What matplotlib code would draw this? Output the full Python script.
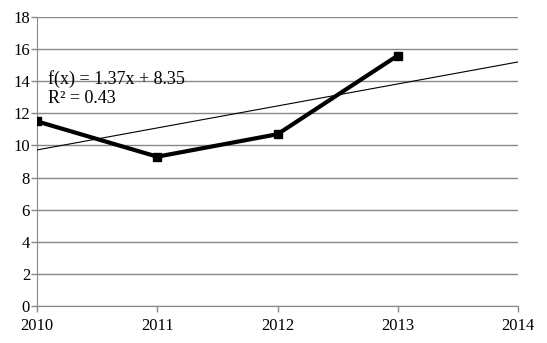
import numpy as np
import matplotlib
matplotlib.use("Agg")
from matplotlib import pyplot as plt

plt.rcParams['font.family'] = ['Liberation Serif', 'DejaVu Serif']

years = [2010, 2011, 2012, 2013]
values = [11.5, 9.3, 10.7, 15.6]
trend_x = [2010, 2014]
slope = 1.37
intercept = 8.35
r2 = 0.43

fig = plt.figure(figsize=(5.47, 3.43), dpi=100)
ax = fig.add_axes([37/547, 1-306/343, (518-37)/547, (306-17)/343])

# trendline: x counted from 1 at 2010
tx = np.array(trend_x)
ty = slope*(tx-2009) + intercept
ax.plot(tx, ty, color='black', lw=0.8, zorder=3)
ax.plot(years, values, color='black', lw=3, marker='s', ms=6, zorder=4)

ax.text(2010.09, 13.82, "f(x) = %.2fx + %.2f" % (slope, intercept), fontsize=13, va='baseline')
ax.text(2010.09, 12.62, "R² = %.2f" % r2, fontsize=13, va='baseline')

ax.set_xlim(2010, 2014)
ax.set_ylim(0, 18)
ax.set_yticks(range(0, 19, 2))
ax.set_xticks(range(2010, 2015))
ax.grid(axis='y', color='#888888', lw=1)
ax.set_axisbelow(True)
for s in ['top', 'right']:
    ax.spines[s].set_visible(False)
for s in ['left', 'bottom']:
    ax.spines[s].set_color('#888888')
ax.tick_params(colors='#888888', labelcolor='black', labelsize=12, length=4, width=1)
ax.tick_params(axis='y', pad=1)
ax.tick_params(axis='x', pad=5)

fig.savefig("out.png", dpi=100)
